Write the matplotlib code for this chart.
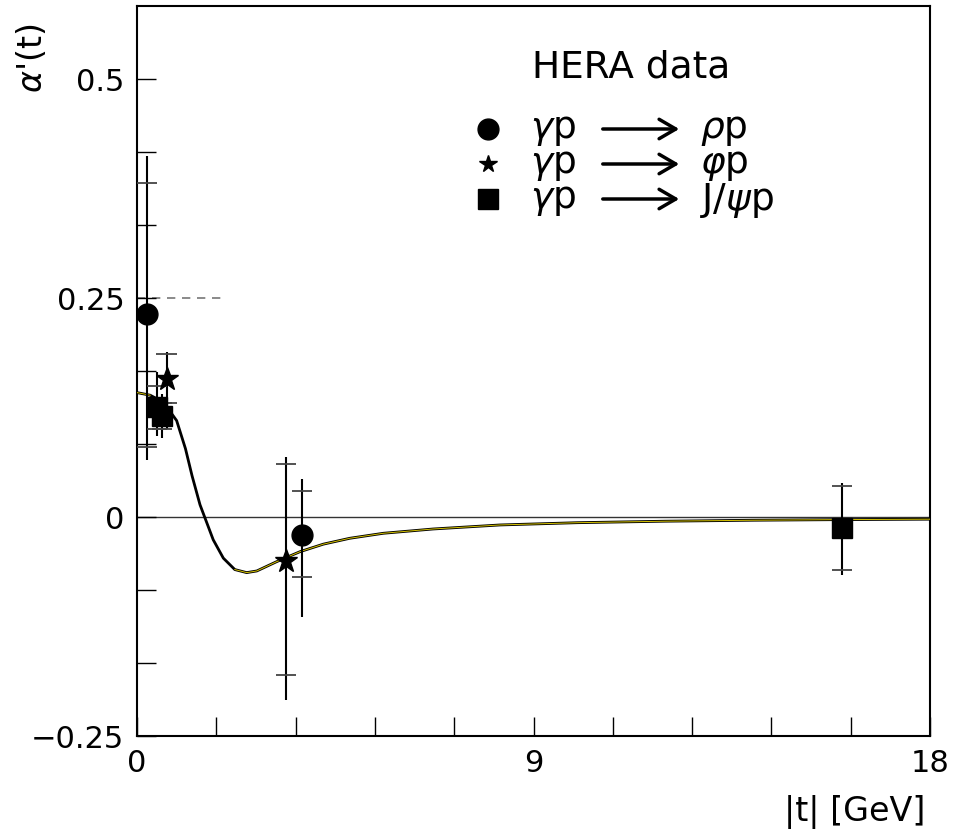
import numpy as np
import matplotlib.pyplot as plt

# model curve alpha'(t)
curve_t = [0.0, 0.3, 0.6, 0.9, 1.1, 1.25, 1.43, 1.73, 1.96, 2.22, 2.49, 2.72,
           3.17, 3.70, 4.23, 4.83, 5.59, 6.72, 8.24, 10.0, 12.0, 14.0, 16.0, 18.0]
curve_a = [0.142, 0.139, 0.131, 0.110, 0.078, 0.047, 0.014, -0.026, -0.047, -0.060,
           -0.0635, -0.0616, -0.051, -0.0396, -0.031, -0.0243, -0.0186, -0.0137,
           -0.0091, -0.0065, -0.0048, -0.0037, -0.003, -0.0025]

# data: t, value, stat low/high, total low/high
rho_t = [0.23, 3.74]
rho_a = [0.232, -0.0205]
rho_stat = [(0.080, 0.381), (-0.069, 0.030)]
rho_tot = [(0.065, 0.412), (-0.114, 0.043)]

phi_t = [0.67, 3.375]
phi_a = [0.158, -0.050]
phi_stat = [(0.130, 0.186), (-0.180, 0.060)]
phi_tot = [(0.100, 0.188), (-0.209, 0.069)]

psi_t = [0.45, 0.57, 16.0]
psi_a = [0.126, 0.115, -0.013]
psi_stat = [(0.100, 0.150), (0.100, 0.130), (-0.0605, 0.035)]
psi_tot = [(0.092, 0.165), (0.090, 0.140), (-0.066, 0.039)]

fig = plt.figure(figsize=(9.57, 8.37), dpi=100)
ax = fig.add_axes([137 / 957, 100 / 837, 793 / 957, 730 / 837])

ax.set_xlim(0, 18)
ax.set_ylim(-0.25, 0.5833)

# reference lines
ax.axhline(0, color="#333333", lw=1.0, zorder=1)
ax.plot([0, 2.0], [0.25, 0.25], color="#777777", lw=1.2, ls=(0, (5, 4)), zorder=1)

# curve: black with a thin yellow core
ct = np.array(curve_t)
ca = np.array(curve_a)
ax.plot(ct, ca, color="black", lw=2.0, zorder=2)
flat = (ct <= 0.4)
ax.plot(ct[flat], ca[flat], color="#d8c400", lw=0.7, zorder=3)
tail = (ct >= 2.2)
ax.plot(ct[tail], ca[tail], color="#d8c400", lw=0.7, zorder=3)


def draw_errors(ts, stat, tot):
    w = 0.23
    for t, (slo, shi), (tlo, thi) in zip(ts, stat, tot):
        ax.vlines(t, tlo, thi, color="black", lw=1.5, zorder=4)
        ax.hlines([slo, shi], t - w, t + w, color="#444444", lw=1.3, zorder=4)


draw_errors(rho_t, rho_stat, rho_tot)
draw_errors(phi_t, phi_stat, phi_tot)
draw_errors(psi_t, psi_stat, psi_tot)

ax.plot(rho_t, rho_a, "o", color="black", ms=15, zorder=5)
ax.plot(phi_t, phi_a, "*", color="black", ms=17, zorder=5)
ax.plot(psi_t, psi_a, "s", color="black", ms=14, zorder=5)

# ticks
ax.set_xticks([0, 9, 18])
ax.set_xticklabels(["0", "9", "18"])
ax.set_xticks(np.arange(0, 18.01, 1.8), minor=True)
ax.set_yticks([-0.25, 0, 0.25, 0.5])
ax.set_yticklabels(["\u22120.25", "0", "0.25", "0.5"])
ax.set_yticks(np.arange(-0.25, 0.55, 1 / 12), minor=True)
ax.tick_params(which="both", direction="in", length=14, width=1.0,
               top=False, right=False, labelsize=22, pad=9)
for s in ax.spines.values():
    s.set_linewidth(1.5)

fig.text(925 / 957, 1 - 812 / 837, "|t| [GeV]", ha="right", va="center", fontsize=24)
fig.text(32 / 957, 1 - 58 / 837, r"$\alpha$'(t)", rotation=90, ha="center", va="center",
         fontsize=24)

# legend
fig.text(631 / 957, 1 - 67 / 837, "HERA data", ha="center", va="center", fontsize=27)
leg_rows = [130, 165, 200]
leg_marks = ["o", "*", "s"]
leg_sizes = [15, 13, 14]
leg_left = [r"$\gamma$p", r"$\gamma$p", r"$\gamma$p"]
leg_right = [r"$\rho$p", r"$\varphi$p", r"J/$\psi$p"]
for y, m, s, lt, rt in zip(leg_rows, leg_marks, leg_sizes, leg_left, leg_right):
    fy = 1 - y / 837
    fig.lines.append(plt.Line2D([488 / 957], [fy], marker=m, ms=s, color="black",
                                transform=fig.transFigure))
    fig.text(530 / 957, fy, lt, ha="left", va="center", fontsize=27)
    fig.patches.append(plt.matplotlib.patches.FancyArrowPatch(
        (600 / 957, fy), (682 / 957, fy), transform=fig.transFigure,
        arrowstyle="->,head_length=12,head_width=7", lw=2.5, color="black",
        mutation_scale=1))
    fig.text(700 / 957, fy, rt, ha="left", va="center", fontsize=27)

fig.savefig("out.png", dpi=100)
